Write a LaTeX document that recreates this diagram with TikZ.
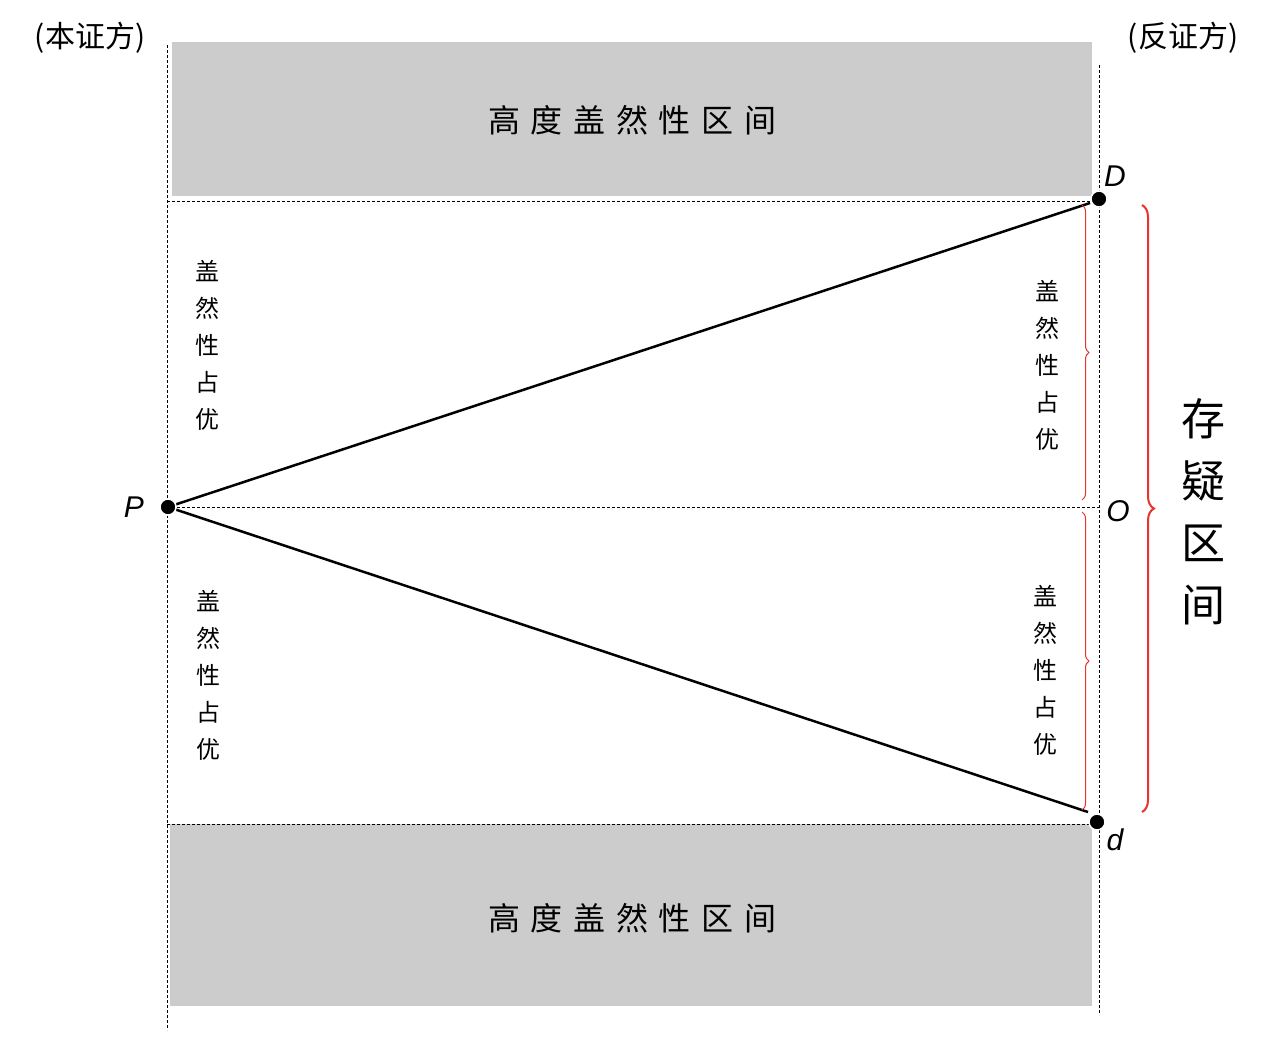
\documentclass[tikz,border=0pt]{standalone}
\usepackage{fontspec}
\setmainfont{Liberation Sans}
\newfontfamily\cjk{Noto Sans CJK SC}
\usetikzlibrary{decorations.pathreplacing}
\definecolor{boxgray}{HTML}{CCCCCC}
\definecolor{bred}{HTML}{E8332E}
\begin{document}
\begin{tikzpicture}[x=1pt,y=-1pt,
  dsh/.style={densely dashed,line width=1pt},
  dotp/.style={circle,fill=black,draw=white,line width=1.5pt,inner sep=0pt,minimum size=16pt},
  lbl/.style={font=\fontsize{30}{30}\selectfont\itshape},
  vtxt/.style={font=\cjk\fontsize{24}{37}\selectfont,align=center,inner sep=0pt},
  btxt/.style={font=\cjk\fontsize{32}{32}\selectfont},
  redbr/.style={draw=bred,line width=1pt,decorate},
  side/.style={font=\cjk\fontsize{30}{30}\selectfont}]
\useasboundingbox[fill=white] (0,0) rectangle (1276,1053);
\fill[boxgray] (172,42) rectangle (1092,196);
\fill[boxgray] (170,824) rectangle (1092,1006);
\draw[dsh] (167,45) -- (167,1030);
\draw[dsh] (1099,65) -- (1099,1015);
\draw[dsh] (167,201) -- (1099,201);
\draw[dsh] (167,507) -- (1099,507);
\draw[dsh] (167,824) -- (1099,824);
\coordinate (DE) at (1090,203);
\coordinate (dE) at (1088,812);
\node[dotp] (P) at (168,507) {};
\draw[line width=2.5pt] (P.center) -- (DE);
\draw[line width=2.5pt] (P.center) -- (dE);
\node[dotp] (P2) at (168,507) {};
\node[dotp] (D) at (1099,199) {};
\node[dotp] (d) at (1097,822) {};
\node[lbl] (lP) at (134,507) {P};
\node[lbl] (lD) at (1115,176) {D};
\node[lbl] (lO) at (1118,511) {O};
\node[lbl] (ld) at (1115,840) {d};
\node[side] (t1) at (90,38) {(本证方)};
\node[side] (t2) at (1183,38) {(反证方)};
\node[btxt] (b1) at (632,120) {高\,\,度\,\,盖\,\,然\,\,性\,\,区\,\,间};
\node[btxt] (b2) at (632,918) {高\,\,度\,\,盖\,\,然\,\,性\,\,区\,\,间};
\node[vtxt] (v1) at (207,345) {盖\\然\\性\\占\\优};
\node[vtxt] (v2) at (208,675) {盖\\然\\性\\占\\优};
\node[vtxt] (v3) at (1047,365) {盖\\然\\性\\占\\优};
\node[vtxt] (v4) at (1045,670) {盖\\然\\性\\占\\优};
\coordinate (r1a) at (1082,205); \coordinate (r1b) at (1082,500);
\coordinate (r2a) at (1082,512); \coordinate (r2b) at (1082,810);
\coordinate (ra) at (1142,205); \coordinate (rb) at (1142,812);
\draw[redbr,decoration={brace,amplitude=7pt}] (r1a) -- (r1b);
\draw[redbr,decoration={brace,amplitude=7pt}] (r2a) -- (r2b);
\draw[redbr,line width=2pt,decoration={brace,amplitude=12pt}] (ra) -- (rb);
\node[font=\cjk\fontsize{44}{62}\selectfont,align=center,inner sep=0pt] (s) at (1203,512) {存\\疑\\区\\间};
\end{tikzpicture}
\end{document}
